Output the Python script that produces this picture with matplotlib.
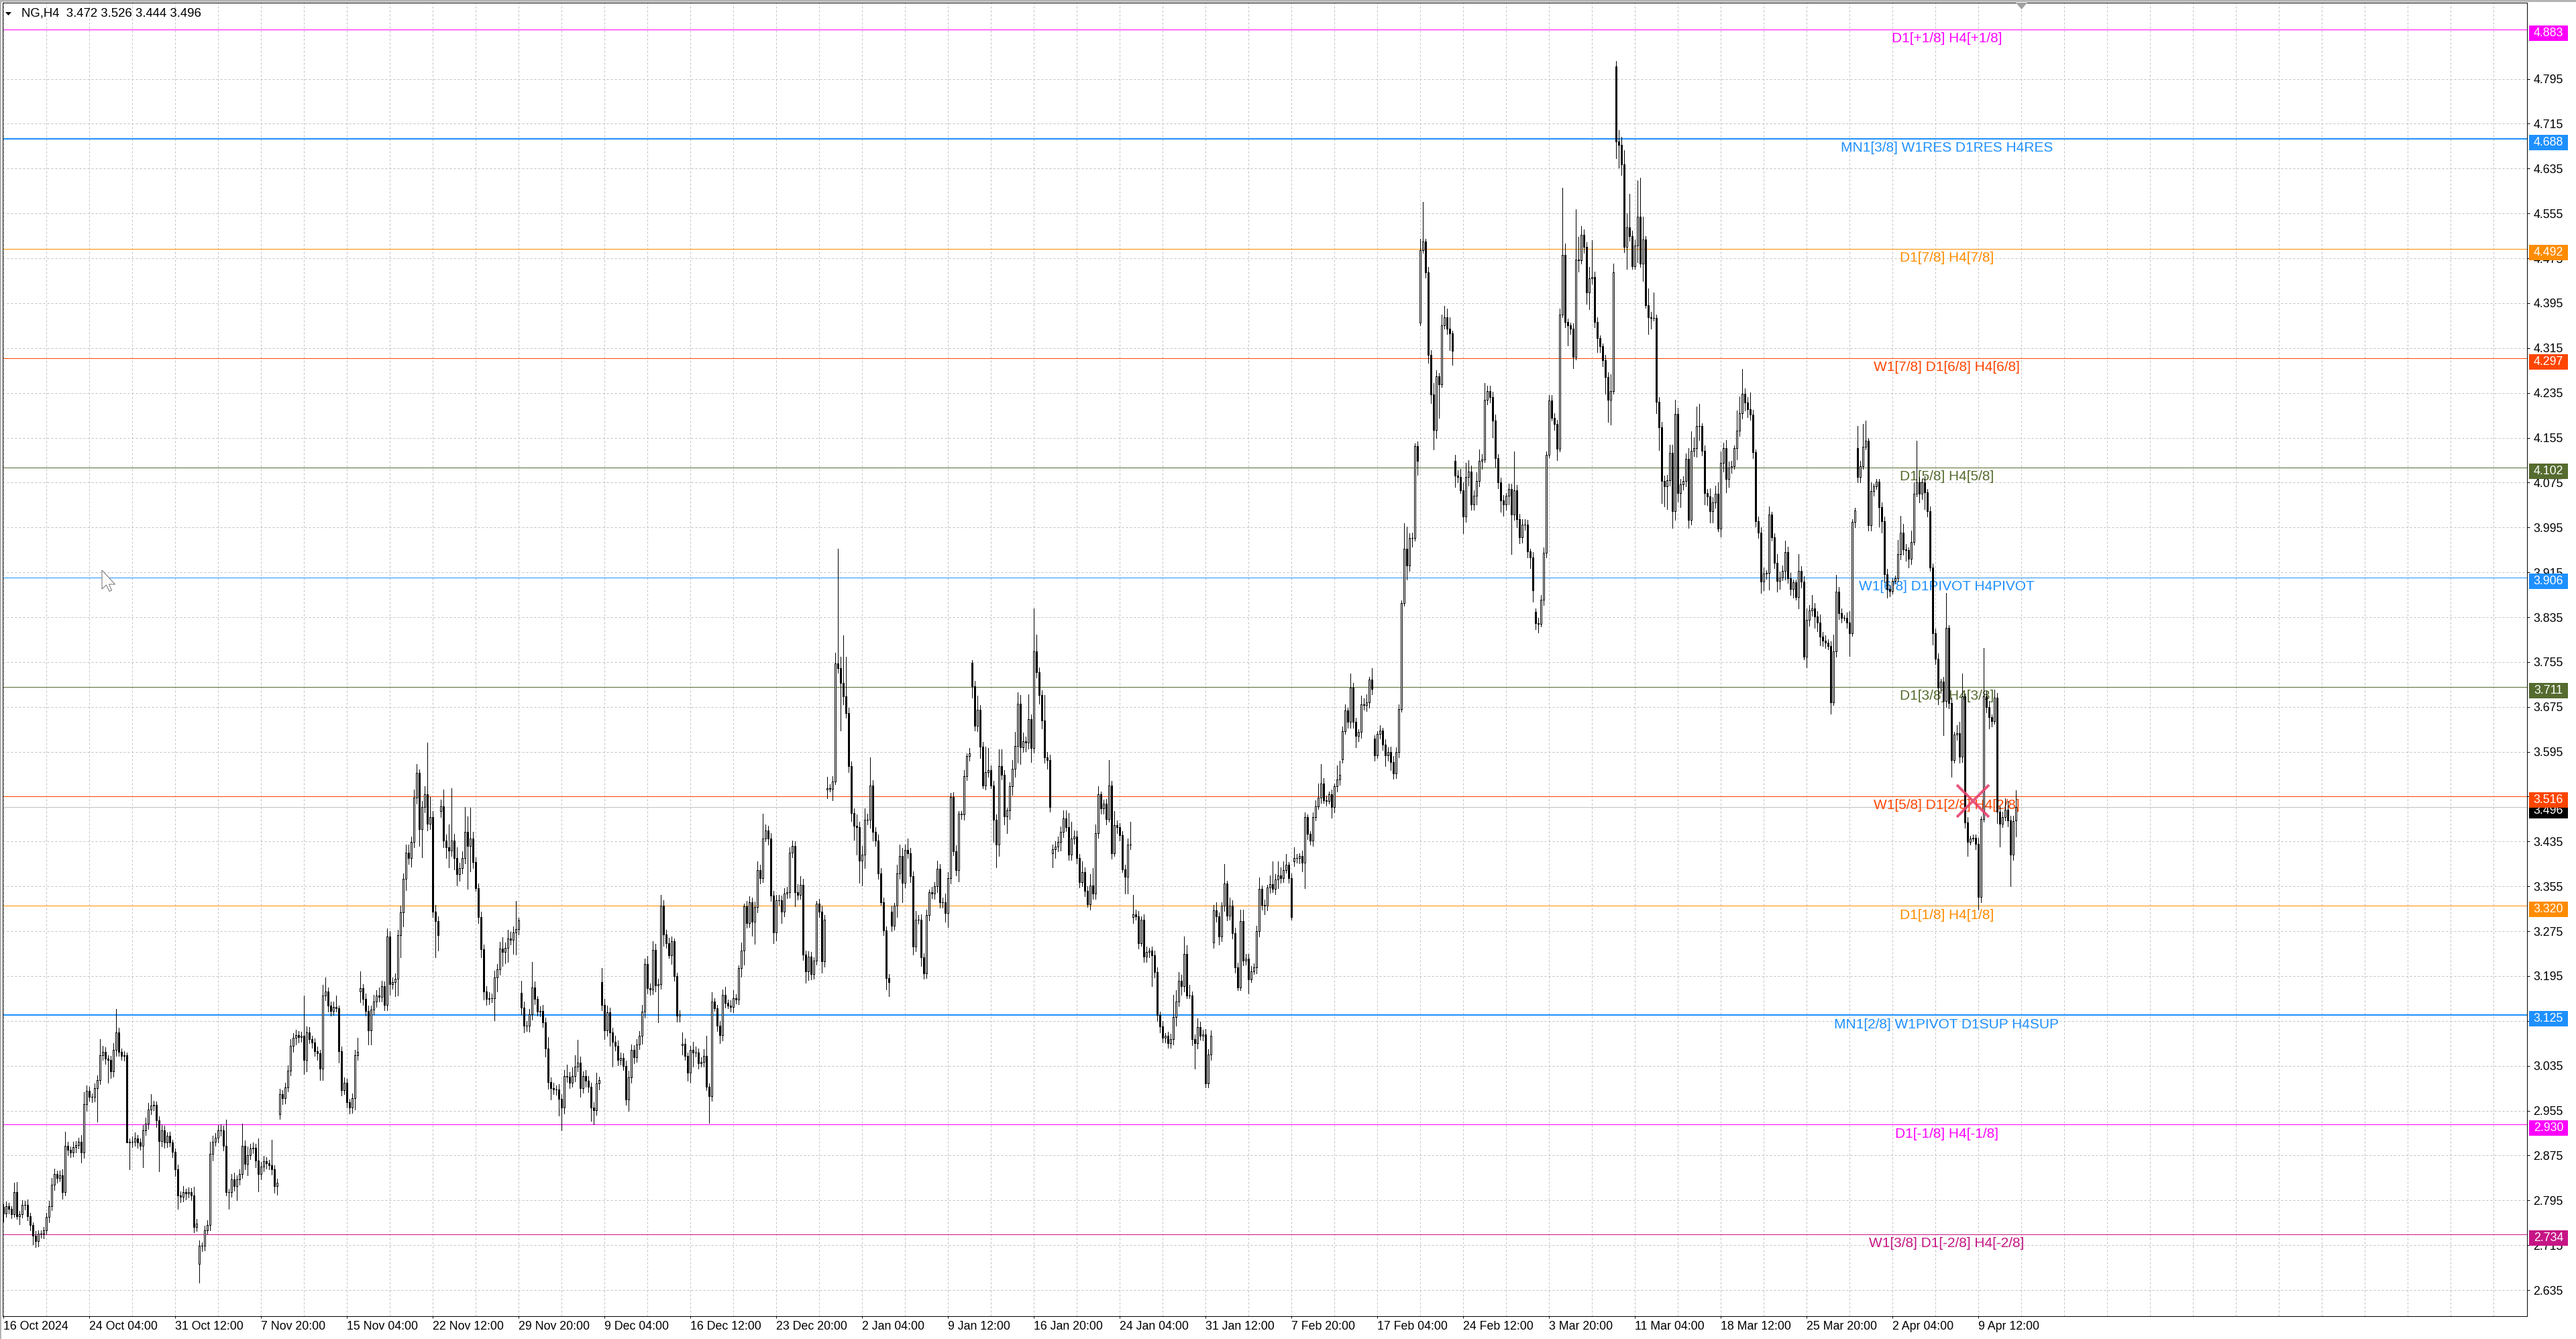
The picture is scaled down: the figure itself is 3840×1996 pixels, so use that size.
import numpy as np
import matplotlib
matplotlib.use("Agg")
import matplotlib.pyplot as plt
import matplotlib.transforms as mtransforms
from matplotlib.patches import Rectangle, Polygon

# ---- NG, H4 candles (thousandths) ----
close_k = [
    2772, 2785, 2780, 2770, 2810, 2767, 2770, 2787, 2787, 2767,
    2751, 2732, 2722, 2735, 2735, 2742, 2765, 2785, 2823, 2842,
    2835, 2840, 2810, 2892, 2885, 2880, 2890, 2893, 2900, 2880,
    2966, 2990, 2980, 2980, 2995, 3010, 3054, 3060, 3048, 3045,
    3025, 3063, 3095, 3060, 3053, 3054, 2898, 2900, 2900, 2906,
    2898, 2892, 2920, 2932, 2957, 2964, 2965, 2938, 2901, 2920,
    2898, 2910, 2898, 2882, 2851, 2804, 2801, 2810, 2807, 2810,
    2804, 2748, 2754, 2714, 2714, 2742, 2751, 2878, 2900, 2907,
    2920, 2920, 2892, 2810, 2810, 2832, 2820, 2832, 2842, 2892,
    2860, 2876, 2888, 2889, 2866, 2842, 2855, 2865, 2861, 2858,
    2851, 2820, 2826, 2984, 2977, 2996, 3026, 3070, 3085, 3090,
    3086, 3088, 3045, 3095, 3083, 3077, 3061, 3057, 3030, 3160,
    3167, 3142, 3133, 3140, 3137, 3061, 2992, 3005, 2970, 2960,
    2977, 3054, 3060, 3173, 3154, 3133, 3098, 3135, 3150, 3160,
    3158, 3177, 3144, 3265, 3181, 3184, 3190, 3268, 3309, 3368,
    3415, 3405, 3434, 3513, 3558, 3457, 3497, 3519, 3467, 3479,
    3310, 3293, 3268, 3498, 3437, 3425, 3419, 3437, 3405, 3377,
    3387, 3406, 3452, 3427, 3440, 3398, 3352, 3300, 3243, 3168,
    3154, 3156, 3156, 3192, 3207, 3244, 3238, 3245, 3262, 3260,
    3273, 3279, 3294, 3139, 3107, 3106, 3127, 3175, 3154, 3132,
    3133, 3112, 3066, 3006, 2995, 2993, 2993, 2976, 2960, 3017,
    3015, 3005, 3017, 3034, 3041, 2995, 3017, 3008, 2997, 2961,
    2956, 3003, 3010, 3144, 3098, 3130, 3095, 3078, 3071, 3046,
    3049, 3035, 2975, 3014, 3063, 3050, 3073, 3089, 3131, 3216,
    3173, 3171, 3242, 3178, 3181, 3320, 3269, 3254, 3232, 3257,
    3195, 3124, 3127, 3074, 3053, 3023, 3063, 3059, 3059, 3039,
    3042, 3053, 2998, 2981, 3149, 3138, 3107, 3090, 3161, 3147,
    3142, 3140, 3155, 3153, 3209, 3240, 3319, 3290, 3327, 3292,
    3318, 3384, 3370, 3440, 3455, 3440, 3338, 3273, 3330, 3330,
    3310, 3342, 3344, 3415, 3427, 3344, 3340, 3358, 3233, 3203,
    3230, 3199, 3223, 3324, 3310, 3221, 3296, 3530, 3529, 3542,
    3752, 3744, 3718, 3694, 3664, 3569, 3486, 3463, 3461, 3401,
    3412, 3474, 3474, 3535, 3452, 3437, 3378, 3327, 3276, 3191,
    3184, 3285, 3320, 3378, 3409, 3361, 3420, 3414, 3373, 3248,
    3296, 3296, 3228, 3200, 3304, 3344, 3342, 3355, 3386, 3327,
    3327, 3307, 3370, 3514, 3418, 3384, 3484, 3483, 3552, 3587,
    3592, 3712, 3641, 3670, 3604, 3535, 3559, 3562, 3535, 3474,
    3429, 3569, 3554, 3480, 3490, 3533, 3565, 3605, 3681, 3603,
    3614, 3611, 3653, 3602, 3774, 3737, 3696, 3651, 3585, 3580,
    3497, 3421, 3426, 3434, 3452, 3476, 3461, 3412, 3440, 3444,
    3405, 3363, 3380, 3347, 3323, 3357, 3342, 3450, 3519, 3494,
    3502, 3475, 3535, 3414, 3464, 3460, 3446, 3385, 3372, 3430,
    3430, 3305, 3301, 3254, 3296, 3230, 3238, 3240, 3232, 3202,
    3125, 3105, 3085, 3088, 3075, 3083, 3122, 3150, 3187, 3177,
    3235, 3160, 3160, 3082, 3075, 3104, 3089, 3091, 3004, 3055,
    3088, 3312, 3301, 3266, 3321, 3360, 3303, 3320, 3272, 3211,
    3175, 3293, 3223, 3226, 3189, 3203, 3210, 3275, 3351, 3322,
    3320, 3353, 3359, 3350, 3367, 3374, 3370, 3384, 3393, 3370,
    3300, 3405, 3405, 3409, 3397, 3478, 3448, 3437, 3478, 3498,
    3513, 3538, 3509, 3507, 3519, 3497, 3533, 3546, 3554, 3632,
    3669, 3648, 3709, 3648, 3623, 3630, 3680, 3678, 3683, 3724,
    3707, 3589, 3627, 3633, 3608, 3589, 3595, 3577, 3556, 3595,
    3671, 3860, 3957, 3927, 3976, 3976, 4140, 4114, 4490, 4505,
    4450, 4303, 4232, 4169, 4265, 4250, 4355, 4370, 4350, 4341,
    4310, 4087, 4085, 4061, 4015, 4085, 4095, 4036, 4051, 4078,
    4114, 4116, 4223, 4238, 4228, 4186, 4118, 4075, 4043, 4036,
    4051, 4063, 4018, 4061, 4010, 3977, 4000, 4000, 3952, 3942,
    3883, 3824, 3823, 3866, 3950, 4125, 4221, 4190, 4179, 4135,
    4375, 4481, 4362, 4355, 4350, 4299, 4473, 4471, 4517, 4495,
    4414, 4439, 4442, 4362, 4333, 4318, 4293, 4263, 4223, 4238,
    4450, 4683, 4677, 4643, 4496, 4530, 4515, 4461, 4498, 4549,
    4465, 4509, 4391, 4370, 4369, 4369, 4219, 4173, 4078, 4068,
    4079, 4128, 4024, 4198, 4056, 4072, 4078, 4117, 4009, 4132,
    4136, 4176, 4176, 4132, 4056, 4050, 4024, 4040, 4055, 3993,
    4110, 4136, 4082, 4102, 4104, 4136, 4168, 4199, 4233, 4218,
    4206, 4196, 4129, 4006, 3986, 3898, 3913, 3914, 4018, 3977,
    3932, 3900, 3906, 3917, 3951, 3905, 3885, 3897, 3871, 3917,
    3898, 3765, 3830, 3847, 3850, 3836, 3825, 3800, 3793, 3790,
    3783, 3683, 3774, 3880, 3842, 3834, 3834, 3826, 3806, 4005,
    4025, 4085, 4104, 4139, 4150, 3999, 4060, 4068, 4077, 4031,
    4006, 3912, 3885, 3882, 3900, 3904, 3948, 3986, 3956, 3955,
    3939, 3969, 4055, 4075, 4055, 4076, 4058, 4024, 3923, 3806,
    3761, 3710, 3720, 3685, 3816, 3682, 3580, 3626, 3628, 3586,
    3694, 3469, 3434, 3440, 3442, 3431, 3336, 3475, 3694, 3675,
    3657, 3650, 3691, 3488, 3466, 3478, 3492, 3472, 3412, 3471,
    3496,
]

# wick above / below the body (thousandths)
upper_wick_k = [
    5, 8, 6, 5, 16, 18, 6, 8, 7, 10,
    6, 5, 8, 6, 7, 5, 8, 9, 12, 10,
    6, 8, 10, 25, 7, 6, 9, 8, 7, 12,
    22, 10, 8, 6, 9, 8, 28, 10, 8, 6,
    7, 12, 41, 8, 6, 7, 5, 6, 9, 10,
    6, 8, 9, 10, 12, 20, 8, 6, 7, 9,
    8, 6, 7, 5, 6, 8, 7, 10, 6, 8,
    7, 15, 8, 10, 6, 8, 9, 22, 10, 8,
    9, 10, 8, 47, 6, 10, 12, 8, 9, 40,
    10, 15, 8, 9, 7, 40, 8, 9, 7, 6,
    45, 6, 8, 10, 7, 9, 10, 12, 8, 9,
    7, 8, 72, 10, 9, 6, 7, 8, 6, 20,
    25, 8, 7, 9, 20, 5, 8, 9, 7, 6,
    8, 9, 25, 30, 8, 10, 9, 7, 12, 10,
    15, 9, 8, 15, 10, 8, 10, 9, 12, 10,
    15, 15, 10, 15, 15, 5, 10, 15, 92, 35,
    10, 12, 9, 12, 30, 10, 40, 93, 12, 20,
    10, 12, 45, 28, 55, 12, 9, 8, 10, 8,
    9, 10, 8, 12, 10, 12, 20, 10, 15, 12,
    10, 50, 5, 22, 10, 8, 9, 45, 10, 5,
    8, 10, 9, 20, 8, 10, 7, 9, 8, 10,
    20, 9, 15, 20, 40, 10, 8, 10, 9, 8,
    9, 20, 5, 25, 10, 12, 9, 8, 10, 9,
    10, 8, 9, 12, 10, 9, 10, 8, 12, 10,
    15, 9, 15, 10, 9, 20, 10, 8, 9, 8,
    5, 6, 7, 20, 10, 6, 8, 15, 10, 7,
    8, 12, 35, 6, 17, 7, 6, 8, 10, 15,
    6, 10, 15, 8, 5, 15, 5, 10, 10, 8,
    10, 15, 9, 45, 10, 8, 10, 9, 10, 10,
    8, 10, 10, 10, 10, 9, 15, 15, 10, 8,
    9, 8, 5, 5, 9, 10, 8, 20, 7, 10,
    20, 205, 20, 85, 70, 10, 9, 8, 20, 9,
    15, 20, 10, 50, 9, 8, 10, 9, 8, 7,
    8, 10, 5, 15, 20, 15, 10, 20, 9, 8,
    15, 8, 9, 8, 10, 5, 10, 8, 15, 9,
    8, 15, 10, 8, 9, 10, 5, 5, 10, 5,
    10, 5, 9, 25, 8, 9, 45, 40, 9, 8,
    9, 30, 30, 8, 5, 8, 15, 25, 20, 15,
    15, 8, 45, 9, 77, 30, 8, 9, 45, 10,
    10, 8, 10, 10, 10, 15, 15, 25, 30, 10,
    10, 8, 20, 9, 8, 20, 30, 15, 15, 5,
    8, 9, 45, 8, 25, 9, 8, 7, 9, 10,
    40, 35, 8, 10, 5, 9, 10, 5, 8, 9,
    8, 7, 10, 5, 8, 9, 40, 20, 15, 10,
    30, 15, 20, 8, 9, 15, 10, 8, 9, 10,
    10, 10, 15, 8, 5, 35, 5, 15, 10, 9,
    8, 20, 20, 8, 9, 10, 8, 10, 20, 5,
    9, 5, 15, 40, 10, 25, 15, 15, 20, 5,
    8, 20, 8, 5, 10, 9, 5, 5, 9, 10,
    25, 35, 10, 8, 5, 9, 5, 25, 25, 8,
    10, 5, 25, 9, 8, 5, 15, 10, 15, 5,
    20, 5, 5, 10, 5, 9, 8, 9, 10, 8,
    8, 5, 45, 40, 9, 10, 5, 9, 20, 70,
    5, 10, 8, 20, 10, 5, 20, 20, 15, 20,
    5, 10, 10, 15, 15, 25, 20, 10, 10, 15,
    20, 10, 30, 10, 10, 9, 10, 8, 9, 10,
    5, 10, 10, 70, 10, 9, 10, 10, 9, 5,
    9, 5, 10, 9, 10, 5, 10, 10, 9, 8,
    10, 120, 20, 5, 5, 9, 90, 40, 15, 10,
    9, 20, 65, 9, 8, 5, 5, 10, 9, 30,
    15, 10, 20, 15, 25, 25, 60, 9, 10, 65,
    70, 40, 5, 30, 9, 45, 5, 9, 10, 9,
    10, 15, 15, 25, 10, 9, 8, 10, 20, 35,
    20, 35, 40, 5, 9, 8, 15, 9, 15, 20,
    20, 10, 15, 10, 10, 5, 35, 30, 45, 10,
    10, 30, 9, 5, 8, 9, 10, 5, 15, 5,
    8, 15, 10, 10, 20, 10, 9, 5, 5, 30,
    9, 10, 20, 10, 25, 10, 10, 15, 9, 10,
    5, 9, 30, 30, 9, 8, 5, 9, 20, 5,
    5, 40, 10, 40, 35, 5, 15, 5, 5, 5,
    9, 8, 9, 8, 5, 5, 25, 30, 15, 9,
    5, 20, 20, 75, 10, 5, 10, 5, 9, 8,
    9, 10, 5, 9, 62, 5, 9, 5, 15, 20,
    40, 5, 9, 5, 5, 5, 10, 5, 86, 10,
    10, 5, 15, 9, 10, 10, 20, 15, 9, 10,
    30,
]

lower_wick_k = [
    15, 6, 8, 7, 5, 5, 15, 6, 8, 7,
    9, 15, 10, 9, 7, 8, 6, 9, 7, 10,
    8, 6, 12, 6, 9, 8, 7, 10, 6, 18,
    9, 12, 8, 10, 9, 60, 8, 9, 10, 40,
    12, 9, 10, 8, 7, 9, 0, 48, 10, 8,
    9, 7, 38, 8, 10, 9, 8, 12, 54, 10,
    9, 8, 7, 10, 12, 24, 9, 8, 10, 7,
    9, 10, 8, 34, 9, 8, 7, 10, 12, 8,
    9, 10, 8, 6, 30, 9, 8, 25, 9, 7,
    10, 20, 8, 9, 12, 31, 10, 8, 9, 7,
    10, 12, 15, 8, 10, 9, 7, 8, 10, 12,
    9, 8, 25, 20, 8, 10, 9, 12, 20, 20,
    8, 10, 9, 7, 5, 20, 10, 8, 9, 10,
    9, 20, 8, 20, 10, 9, 25, 25, 8, 10,
    9, 8, 10, 10, 20, 9, 25, 30, 40, 25,
    20, 10, 15, 9, 10, 30, 50, 10, 12, 10,
    10, 65, 28, 10, 12, 20, 30, 10, 20, 20,
    12, 9, 10, 77, 45, 10, 5, 10, 15, 15,
    10, 9, 8, 40, 25, 10, 25, 20, 25, 9,
    25, 40, 10, 12, 12, 9, 10, 10, 9, 8,
    9, 8, 15, 12, 20, 9, 10, 30, 40, 10,
    9, 10, 8, 10, 9, 15, 8, 10, 9, 25,
    25, 9, 10, 10, 15, 9, 25, 45, 9, 10,
    9, 8, 10, 20, 9, 10, 8, 9, 15, 10,
    9, 10, 8, 10, 65, 9, 20, 9, 5, 15,
    8, 10, 10, 17, 8, 15, 18, 25, 8, 9,
    5, 8, 7, 48, 8, 5, 10, 15, 10, 8,
    5, 8, 10, 7, 8, 15, 25, 9, 8, 25,
    40, 9, 10, 8, 5, 10, 9, 20, 15, 8,
    20, 9, 8, 9, 8, 25, 9, 8, 9, 20,
    15, 10, 9, 8, 10, 20, 9, 15, 5, 20,
    5, 8, 85, 15, 9, 10, 15, 25, 50, 40,
    45, 25, 9, 15, 15, 10, 9, 5, 8, 20,
    25, 10, 8, 20, 9, 35, 8, 9, 10, 15,
    9, 8, 15, 10, 9, 10, 8, 10, 10, 10,
    10, 15, 25, 10, 8, 9, 20, 8, 9, 8,
    8, 20, 8, 9, 20, 5, 8, 9, 5, 40,
    40, 20, 9, 15, 30, 15, 15, 15, 30, 30,
    9, 15, 10, 25, 9, 10, 15, 15, 10, 15,
    9, 25, 15, 9, 15, 9, 8, 10, 10, 9,
    9, 10, 8, 10, 5, 10, 10, 10, 9, 10,
    10, 10, 5, 10, 5, 10, 9, 5, 30, 30,
    9, 10, 5, 10, 5, 10, 10, 9, 55, 9,
    10, 10, 8, 9, 8, 8, 10, 15, 9, 15,
    9, 5, 5, 10, 45, 9, 8, 9, 8, 8,
    9, 10, 9, 15, 9, 10, 9, 8, 10, 10,
    5, 5, 9, 8, 25, 5, 5, 10, 10, 9,
    15, 8, 10, 5, 9, 15, 9, 8, 5, 9,
    5, 9, 8, 9, 15, 45, 9, 8, 10, 5,
    5, 9, 5, 8, 5, 20, 10, 9, 10, 5,
    5, 10, 10, 10, 20, 9, 10, 8, 10, 9,
    10, 10, 5, 9, 10, 20, 10, 15, 9, 8,
    10, 5, 5, 25, 10, 15, 5, 25, 5, 5,
    10, 15, 15, 35, 15, 60, 5, 5, 10, 30,
    25, 20, 10, 5, 30, 10, 15, 9, 10, 15,
    10, 15, 5, 9, 10, 30, 15, 10, 20, 20,
    9, 15, 70, 10, 15, 10, 9, 10, 10, 20,
    20, 10, 15, 5, 9, 8, 5, 5, 10, 20,
    5, 5, 10, 35, 10, 20, 5, 20, 5, 10,
    20, 30, 9, 10, 25, 10, 10, 30, 40, 45,
    5, 30, 40, 20, 10, 40, 9, 5, 5, 30,
    5, 30, 5, 30, 20, 5, 20, 40, 40, 35,
    40, 10, 30, 15, 15, 25, 10, 10, 15, 9,
    10, 15, 25, 9, 20, 15, 20, 20, 10, 5,
    15, 15, 25, 15, 10, 5, 20, 10, 10, 15,
    15, 9, 10, 10, 10, 20, 15, 10, 30, 5,
    10, 20, 15, 5, 15, 9, 10, 15, 5, 20,
    10, 5, 20, 10, 10, 20, 15, 15, 10, 10,
    5, 20, 5, 9, 10, 9, 5, 10, 40, 5,
    10, 10, 10, 5, 5, 10, 10, 9, 5, 35,
    20, 15, 15, 10, 5, 5, 5, 10, 10, 20,
    15, 10, 5, 5, 15, 10, 30, 10, 5, 20,
    10, 30, 10, 60, 10, 10, 30, 5, 10, 10,
    9, 10, 25, 5, 5, 10, 22, 10, 5, 10,
    20, 10, 5, 20, 40, 5, 5, 10, 57, 10,
    28,
]

# opens that differ from the previous close (gaps)
gap_open_k = {0: 2783, 73: 2682, 103: 2948, 133: 3168, 163: 3489, 193: 3165,
              223: 3184, 253: 3072, 307: 3527, 331: 3310, 361: 3754, 391: 3414,
              421: 3300, 451: 3255, 481: 3400, 499: 3581, 511: 3619, 528: 4360,
              541: 4114, 571: 3845, 601: 4817, 691: 4136, 750: 3472}

level_prices = [4.883, 4.688, 4.492, 4.297, 4.102, 3.906, 3.711, 3.516, 3.320, 3.125, 2.930, 2.734]
level_names = ["D1[+1/8] H4[+1/8]", "MN1[3/8] W1RES D1RES H4RES", "D1[7/8] H4[7/8]",
               "W1[7/8] D1[6/8] H4[6/8]", "D1[5/8] H4[5/8]", "W1[6/8] D1PIVOT H4PIVOT",
               "D1[3/8] H4[3/8]", "W1[5/8] D1[2/8] H4[2/8]", "D1[1/8] H4[1/8]",
               "MN1[2/8] W1PIVOT D1SUP H4SUP", "D1[-1/8] H4[-1/8]", "W1[3/8] D1[-2/8] H4[-2/8]"]
level_colors = ["#ff00ff", "#1e90ff", "#ff8c00", "#ff4500", "#556b2f", "#1e90ff",
                "#556b2f", "#ff4500", "#ff8c00", "#1e90ff", "#ff00ff", "#c71585"]
level_px = [1, 2, 1, 1, 1, 1, 1, 1, 1, 2, 1, 1]

price_ticks = [4.795, 4.715, 4.635, 4.555, 4.475, 4.395, 4.315, 4.235, 4.155, 4.075,
               3.995, 3.915, 3.835, 3.755, 3.675, 3.595, 3.515, 3.435, 3.355, 3.275,
               3.195, 3.115, 3.035, 2.955, 2.875, 2.795, 2.715, 2.635]
date_labels = ["16 Oct 2024", "24 Oct 04:00", "31 Oct 12:00", "7 Nov 20:00", "15 Nov 04:00",
               "22 Nov 12:00", "29 Nov 20:00", "9 Dec 04:00", "16 Dec 12:00", "23 Dec 20:00",
               "2 Jan 04:00", "9 Jan 12:00", "16 Jan 20:00", "24 Jan 04:00", "31 Jan 12:00",
               "7 Feb 20:00", "17 Feb 04:00", "24 Feb 12:00", "3 Mar 20:00", "11 Mar 04:00",
               "18 Mar 12:00", "25 Mar 20:00", "2 Apr 04:00", "9 Apr 12:00"]
bars_per_label = 32
bars_per_grid = 16
cross_bar, cross_price = 734, 3.507

# ---- build OHLC ----
closes = np.array(close_k) / 1000.0
n = len(closes)
opens = np.array([gap_open_k.get(i, close_k[i - 1]) for i in range(n)]) / 1000.0
highs = np.maximum(opens, closes) + np.array(upper_wick_k) / 1000.0
lows = np.minimum(opens, closes) - np.array(lower_wick_k) / 1000.0
bid = closes[-1]

# ---- layout (pixels of a 3840x1996 canvas) ----
W, H = 3840, 1996
AX_L, AX_R, AX_T, AX_B = 4, 3767, 4, 1962
PT = 0.72  # one pixel in points at dpi 100

plt.rcParams['font.family'] = ['Liberation Sans', 'DejaVu Sans']
fig = plt.figure(figsize=(W / 100, H / 100), dpi=100)
fig.patch.set_facecolor('white')
ax = fig.add_axes([AX_L / W, (H - AX_B) / H, (AX_R - AX_L) / W, (AX_B - AX_T) / H])
ax.set_xlim(-0.25, 940.5)
ax.set_ylim(2.5884, 4.9309)
ppx = (4.9309 - 2.5884) / (AX_B - AX_T)  # price per pixel
axw = AX_R - AX_L

for s in ax.spines.values():
    s.set_linewidth(PT)
    s.set_color('black')

# grid
major_x = list(range(0, bars_per_label * len(date_labels), bars_per_label))
minor_x = [k for k in range(bars_per_grid, 941, bars_per_grid) if k not in major_x]
ax.set_xticks(major_x)
ax.set_xticklabels(date_labels)
ax.set_xticks(minor_x, minor=True)
ax.yaxis.tick_right()
ax.set_yticks(price_ticks)
ax.set_yticklabels([f"{p:.3f}" for p in price_ticks])
ax.set_axisbelow(True)
gkw = dict(color='#c0c0c0', linestyle=(0, (3, 3)), linewidth=PT)
ax.grid(True, which='both', axis='x', **gkw)
ax.grid(True, which='major', axis='y', **gkw)
ax.tick_params(axis='x', which='major', length=3 * PT, width=PT, pad=3, labelsize=12.8)
ax.tick_params(axis='x', which='minor', length=0)
ax.tick_params(axis='y', length=4 * PT, width=PT, pad=4, labelsize=12.8)
for lbl in ax.get_xticklabels():
    lbl.set_horizontalalignment('left')

# levels
label_x = (2902 - 5) / 4
for p, name, col, w in zip(level_prices, level_names, level_colors, level_px):
    ax.axhline(p, color=col, linewidth=w * PT, zorder=2)
    ax.annotate(name, xy=(label_x, p), xytext=(0, -3), textcoords='offset points',
                ha='center', va='top', color=col, fontsize=15, zorder=3)
ax.axhline(bid, color='#c0c0c0', linewidth=PT, zorder=1.5)

# candles
x = np.arange(n)
up = closes >= opens
body_lo = np.minimum(opens, closes)
body_h = np.abs(closes - opens)
ax.vlines(x, lows, highs, color='black', linewidth=PT, zorder=4, antialiased=False)
ax.bar(x[up], body_h[up], bottom=body_lo[up], width=0.6, facecolor='white',
       edgecolor='black', linewidth=PT, zorder=5, antialiased=False)
ax.bar(x[~up], body_h[~up], bottom=body_lo[~up], width=0.6, facecolor='black',
       edgecolor='black', linewidth=PT, zorder=5, antialiased=False)

# trade mark
ax.plot([cross_bar], [cross_price], marker='x', markersize=48 * PT, markeredgewidth=4 * PT,
        color='#e8446e', alpha=0.9, zorder=20)

# price labels on the right scale
trans = mtransforms.blended_transform_factory(ax.transAxes, ax.transData)
box_specs = [(bid, 'black', 9)] + [(p, c, 10) for p, c in zip(level_prices, level_colors)]
for p, col, z in box_specs:
    ax.add_patch(Rectangle((1 + 3 / axw, p - 17 * ppx), 58 / axw, 23 * ppx, transform=trans,
                           facecolor=col, edgecolor='none', clip_on=False, zorder=z))
    ax.text(1 + 32 / axw, p - 5.5 * ppx, f"{p:.3f}", transform=trans, ha='center',
            va='center', color='white', fontsize=12.8, clip_on=False, zorder=z + 0.1)

# header and window decorations (pixel coordinates)
ident = mtransforms.IdentityTransform()
fig.patches.append(Rectangle((0, H - 3), W, 3, transform=ident, facecolor='#b4b4b4', edgecolor='none'))
fig.patches.append(Rectangle((0, 0), 2, H, transform=ident, facecolor='#b4b4b4', edgecolor='none'))
fig.patches.append(Polygon([(8, H - 18), (17, H - 18), (12.5, H - 23)], closed=True,
                           transform=ident, facecolor='black', edgecolor='none'))
fig.patches.append(Polygon([(3005, H - 4), (3022, H - 4), (3013.5, H - 14)], closed=True,
                           transform=ident, facecolor='#a0a0a0', edgecolor='none'))
cursor = [(0, 0), (0, 28), (6.5, 22), (11, 31.5), (14.5, 30), (10.5, 21), (19.5, 21)]
fig.patches.append(Polygon([(152 + dx, H - 850 - dy) for dx, dy in cursor], closed=True,
                           transform=ident, facecolor='white', edgecolor='#707070', linewidth=PT))
fig.text(32 / W, 1 - 20 / H,
         f"NG,H4  {opens[-1]:.3f} {highs[-1]:.3f} {lows[-1]:.3f} {closes[-1]:.3f}",
         ha='left', va='center', fontsize=13.4, color='black')

fig.savefig("out.png", dpi=100)
